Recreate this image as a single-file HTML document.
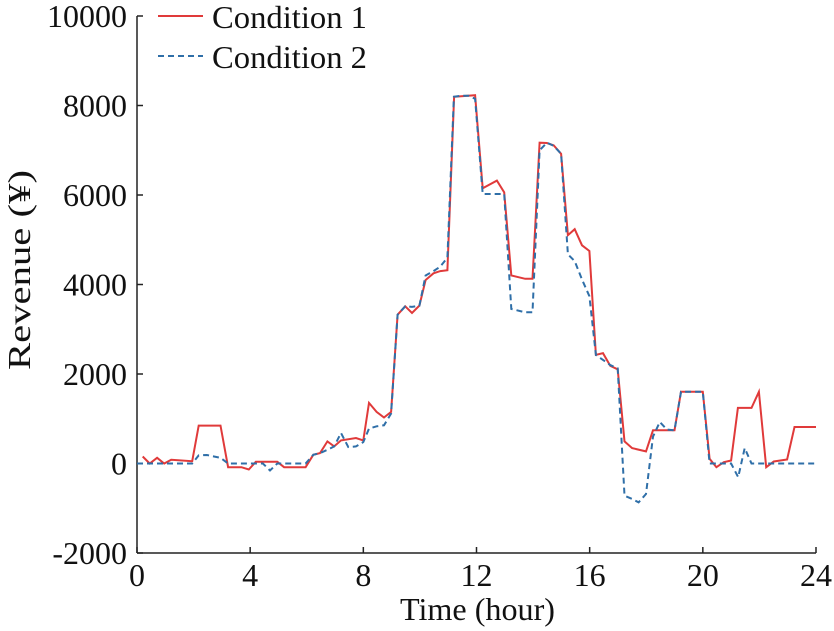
<!DOCTYPE html>
<html><head><meta charset="utf-8"><style>
body{margin:0;background:#fff;}
svg{display:block;font-family:"Liberation Serif",serif;}
</style></head><body>
<svg id="chart" width="834" height="631" viewBox="0 0 834 631" xmlns="http://www.w3.org/2000/svg">
<g id="axes"></g>
<g id="series"></g>
<g id="legend">
  <line x1="158" y1="16" x2="203" y2="16" stroke="#e03a3a" stroke-width="2"/>
  <text x="212" y="28" font-size="32" textLength="155" lengthAdjust="spacingAndGlyphs" fill="#111">Condition 1</text>
  <line x1="158" y1="56" x2="203" y2="56" stroke="#2f6fa8" stroke-width="2" stroke-dasharray="6,4"/>
  <text x="212" y="68" font-size="32" textLength="155" lengthAdjust="spacingAndGlyphs" fill="#111">Condition 2</text>
</g>
<text x="400" y="620" font-size="32" textLength="155" lengthAdjust="spacingAndGlyphs" fill="#111">Time (hour)</text>
<text transform="translate(30,370) rotate(-90)" font-size="32" textLength="200" lengthAdjust="spacingAndGlyphs" fill="#111">Revenue (¥)</text>
</svg>
<script>
const xTicks = [0,4,8,12,16,20,24];
const yTicks = [-2000,0,2000,4000,6000,8000,10000];
const timeC1 = [0.2,0.45,0.71,0.96,1.21,1.95,2.18,2.95,3.22,3.69,3.95,4.2,4.96,5.2,5.96,6.23,6.47,6.73,6.97,7.21,7.74,8.0,8.2,8.47,8.73,8.98,9.21,9.48,9.72,9.98,10.2,10.48,10.72,10.97,11.21,11.95,12.22,12.72,12.98,13.23,13.72,13.98,14.23,14.49,14.73,14.99,15.23,15.47,15.73,15.99,16.22,16.47,16.73,16.99,17.23,17.5,17.99,18.24,19.0,19.23,20.0,20.24,20.48,20.74,21.0,21.24,21.72,21.98,22.24,22.51,22.98,23.24,24.0];
const valueC1 = [157,0,128,0,83,52,847,847,-83,-83,-135,38,38,-83,-83,195,232,494,382,517,569,517,1355,1153,1027,1153,3326,3513,3364,3528,4100,4250,4300,4320,8195,8231,6150,6322,6060,4202,4127,4127,7169,7161,7108,6921,5101,5236,4876,4749,2427,2465,2180,2105,494,344,270,741,741,1603,1603,105,-83,30,67,1243,1243,1603,-83,45,90,816,816];
const timeC2 = [0,1.95,2.18,2.47,2.72,2.95,3.22,4.45,4.7,4.96,5.96,6.23,6.47,6.73,6.97,7.21,7.47,7.74,8.0,8.2,8.47,8.73,8.98,9.21,9.48,9.72,9.98,10.2,10.48,10.72,10.97,11.2,11.48,11.72,11.95,12.22,12.72,12.98,13.23,13.72,13.98,14.23,14.49,14.73,14.99,15.23,15.47,15.73,15.99,16.22,16.47,16.73,16.99,17.23,17.5,17.73,17.99,18.24,18.48,18.73,19.0,19.23,20.0,20.24,21.0,21.25,21.48,21.72,24.0];
const valueC2 = [0,0,180,190,156,128,0,0,-157,0,0,195,232,307,382,682,367,382,479,779,831,854,1116,3326,3513,3500,3528,4200,4300,4400,4600,8195,8220,8220,8150,6022,6022,6022,3454,3378,3378,7000,7169,7100,6921,4674,4524,4112,3738,2427,2315,2200,2128,-719,-790,-870,-681,600,928,757,741,1603,1603,0,0,-307,344,0,0];

const X0=137, X1=816, Y0=553, Y1=16;
function xs(t){return X0+(t-0)/(24-0)*(X1-X0);}
function ys(v){return Y0-(v+2000)/12000*(Y0-Y1);}
const NS='http://www.w3.org/2000/svg';
const axes=document.getElementById('axes');
function mk(tag,attrs,parent){const e=document.createElementNS(NS,tag);for(const k in attrs)e.setAttribute(k,attrs[k]);parent.appendChild(e);return e;}

const yAxis=mk('line',{x1:X0,y1:Y1,x2:X0,y2:Y0,stroke:'#222','stroke-width':1.5},axes);


const xAxis=mk('line',{x1:X0,y1:Y0,x2:X1,y2:Y0,stroke:'#222','stroke-width':1.5},axes);



xTicks.forEach(t=>{
  const l=mk('line',{x1:xs(t),y1:Y0,x2:xs(t),y2:Y0-6,stroke:'#222','stroke-width':1.5},axes);
  
  
  const tx=mk('text',{x:xs(t),y:Y0+33,'font-size':32,'text-anchor':'middle',fill:'#111'},axes);
  tx.textContent=t;
  
  
});
yTicks.forEach(v=>{
  const l=mk('line',{x1:X0,y1:ys(v),x2:X0+6,y2:ys(v),stroke:'#222','stroke-width':1.5},axes);
  
  
  const tx=mk('text',{x:X0-10,y:ys(v)+11,'font-size':32,'text-anchor':'end',fill:'#111'},axes);
  tx.textContent=v;
  
  
});

const series=document.getElementById('series');
function pts(ts,vs){return ts.map((t,i)=>xs(t).toFixed(1)+','+ys(vs[i]).toFixed(1)).join(' ');}
const p2=mk('polyline',{points:pts(timeC2,valueC2),fill:'none',stroke:'#2f6fa8','stroke-width':2,'stroke-dasharray':'6,4'},series);


const p1=mk('polyline',{points:pts(timeC1,valueC1),fill:'none',stroke:'#e03a3a','stroke-width':2},series);


series.insertBefore(p1,p2);
</script>
</body></html>
